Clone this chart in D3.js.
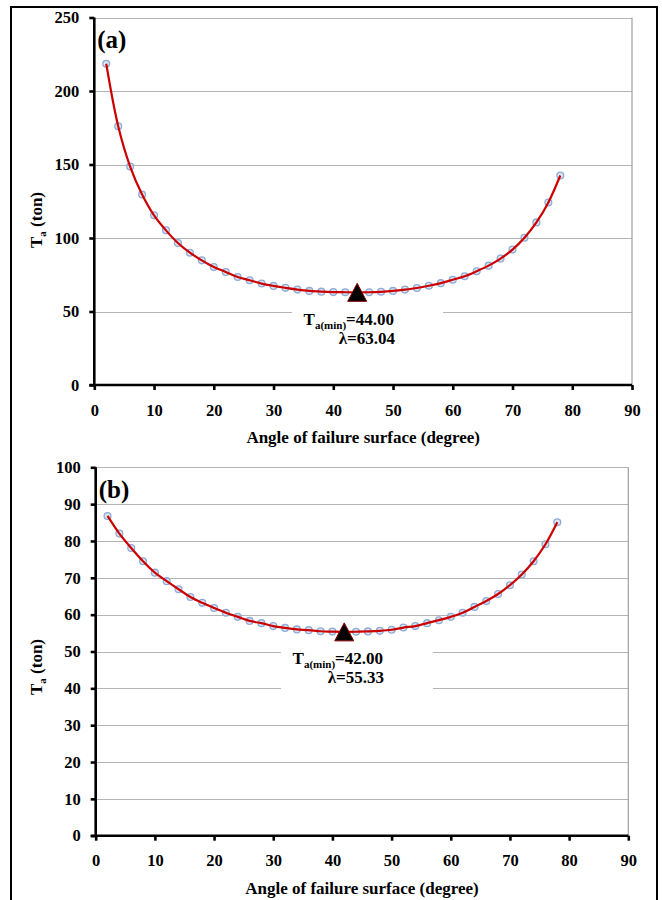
<!DOCTYPE html>
<html>
<head>
<meta charset="utf-8">
<script src="https://cdn.jsdelivr.net/npm/d3@7"></script>
<style>
  html, body { margin: 0; padding: 0; background: #fff; }
  svg text, svg tspan { font-family: "Liberation Serif", "Times New Roman", "DejaVu Serif", serif !important; font-weight: bold; fill: #000; }
</style>
</head>
<body>
<svg id="chart" width="662" height="900" font-family="Liberation Serif, serif"></svg>
<script>
// ---- data ----
const angles = [2, 4, 6, 8, 10, 12, 14, 16, 18, 20, 22, 24, 26, 28, 30, 32, 34, 36, 38, 40,
                42, 44, 46, 48, 50, 52, 54, 56, 58, 60, 62, 64, 66, 68, 70, 72, 74, 76, 78];
const taA = [218.5, 176.0, 148.6, 129.6, 115.4, 105.2, 96.6, 90.0, 84.8, 80.3, 76.9, 73.5, 71.3, 69.0,
             67.4, 66.1, 64.9, 64.0, 63.5, 63.2, 63.1, 63.04, 63.1, 63.4, 64.0, 64.9, 66.0, 67.5, 69.3,
             71.6, 74.0, 77.4, 81.2, 86.0, 92.1, 100.2, 110.6, 124.2, 142.5];
const taB = [86.8, 82.0, 78.1, 74.5, 71.4, 69.1, 66.9, 64.8, 63.2, 61.8, 60.5, 59.4, 58.3, 57.7,
             56.9, 56.4, 56.0, 55.8, 55.5, 55.4, 55.33, 55.36, 55.45, 55.6, 55.9, 56.5, 56.9, 57.7, 58.5,
             59.4, 60.5, 62.1, 63.7, 65.6, 68.0, 70.9, 74.5, 79.1, 85.1];
const xTicks = [0, 10, 20, 30, 40, 50, 60, 70, 80, 90];
const yTicksA = [0, 50, 100, 150, 200, 250];
const yTicksB = [0, 10, 20, 30, 40, 50, 60, 70, 80, 90, 100];
const minA = { angle: 44, value: 63.04, line1: "=44.00", line2: "λ=63.04" };
const minB = { angle: 42, value: 55.33, line1: "=42.00", line2: "λ=55.33" };
const panelLabels = ["(a)", "(b)"];
const xTitle = "Angle of failure surface (degree)";

const FONT = '"Liberation Serif", "Times New Roman", "DejaVu Serif", serif';
const svg = d3.select("#chart");

// outer frame
svg.append("rect").attr("x", 11).attr("y", 7).attr("width", 646).attr("height", 920)
  .attr("fill", "none").attr("stroke", "#000").attr("stroke-width", 2);

function triangleType(w, h) {
  return { draw(ctx) { ctx.moveTo(0, -h / 2); ctx.lineTo(w / 2, h / 2); ctx.lineTo(-w / 2, h / 2); ctx.closePath(); } };
}

function txt(sel, size) {
  return sel.attr("font-family", FONT).style("font-family", FONT).attr("font-weight", "bold").style("font-size", size);
}

function panel(cfg) {
  const g = svg.append("g");
  const x = d3.scaleLinear().domain([0, 90]).range([cfg.x0, cfg.x1]);
  const y = d3.scaleLinear().domain([0, cfg.ymax]).range([cfg.y0, cfg.y1]);

  // gridlines
  g.append("g").selectAll("line").data(cfg.yTicks.filter(d => d > 0)).join("line")
    .attr("x1", x(0)).attr("x2", x(90)).attr("y1", d => Math.round(y(d)) + 0.5).attr("y2", d => Math.round(y(d)) + 0.5)
    .attr("stroke", "#b4b4b4").attr("stroke-width", 1.2);
  // right border of plot area
  g.append("line").attr("x1", x(90)).attr("x2", x(90)).attr("y1", y(cfg.ymax)).attr("y2", y(0))
    .attr("stroke", "#a0a0a0").attr("stroke-width", 1.2);

  // annotation box (masks gridlines)
  g.append("rect").attr("x", cfg.box[0]).attr("y", cfg.box[1]).attr("width", cfg.box[2]).attr("height", cfg.box[3])
    .attr("fill", "#fff");

  // axes
  const xAxis = d3.axisBottom(x).tickValues(xTicks).tickSize(5).tickPadding(14).tickFormat(d3.format("d"));
  const yAxis = d3.axisLeft(y).tickValues(cfg.yTicks).tickSize(5).tickPadding(10).tickFormat(d3.format("d"));
  const gx = g.append("g").attr("transform", `translate(0,${y(0)})`).call(xAxis);
  const gy = g.append("g").attr("transform", `translate(${x(0)},0)`).call(yAxis);
  [gx, gy].forEach(a => {
    a.attr("font-family", FONT);
    a.select(".domain").attr("stroke", "#000").attr("stroke-width", 2.6);
    a.selectAll(".tick line").attr("stroke", "#000").attr("stroke-width", 2.6);
    txt(a.selectAll(".tick text"), "16.5px").attr("fill", "#000");
  });
  gx.select(".domain").attr("d", `M${x(0) - 5},0H${x(90)}`);
  gy.select(".domain").attr("d", `M0,${y(cfg.ymax)}V${y(0)}`);

  // data points
  const pts = angles.map((a, i) => [a, cfg.values[i]]);
  g.append("g").selectAll("circle").data(pts).join("circle")
    .attr("cx", d => x(d[0])).attr("cy", d => y(d[1])).attr("r", 3.4)
    .attr("fill", "rgba(190,208,232,0.55)").attr("stroke", "#8eaad6").attr("stroke-width", 1.3);

  // smooth line
  const line = d3.line().x(d => x(d[0])).y(d => y(d[1])).curve(d3.curveCatmullRom.alpha(0.5));
  g.append("path").datum(pts).attr("d", line).attr("fill", "none")
    .attr("stroke", "#cc0000").attr("stroke-width", 2.2);

  // minimum marker
  g.append("path").attr("d", d3.symbol().type(triangleType(19, 18))())
    .attr("transform", `translate(${x(cfg.min.angle)},${y(cfg.min.value)})`)
    .attr("fill", "#000").attr("stroke", "#8b0000").attr("stroke-width", 1);

  // annotation text
  const t1 = txt(g.append("text"), "17px").attr("x", cfg.textX).attr("y", cfg.textY).attr("text-anchor", "end");
  t1.append("tspan").text("T");
  t1.append("tspan").attr("dy", 4).style("font-size", "11px").text("a(min)");
  t1.append("tspan").attr("dy", -4).text(cfg.min.line1);
  txt(g.append("text"), "17px").attr("x", cfg.textX + 1).attr("y", cfg.textY + 19).attr("text-anchor", "end")
    .text(cfg.min.line2);

  // panel label
  txt(g.append("text"), "25px").attr("x", x(0) + 3).attr("y", cfg.labelY).text(cfg.label);

  // x title
  txt(g.append("text"), "17px").attr("x", (x(0) + x(90)) / 2).attr("y", y(0) + 58).attr("text-anchor", "middle")
    .text(xTitle);

  // y title
  const yt = txt(g.append("text"), "17px").attr("transform", `translate(42,${cfg.yTitleY}) rotate(-90)`)
    .attr("text-anchor", "middle");
  yt.append("tspan").text("T");
  yt.append("tspan").attr("dy", 4).style("font-size", "11px").text("a");
  yt.append("tspan").attr("dy", -4).text(" (ton)");
}

panel({ x0: 94.3, x1: 632, y0: 385, y1: 17.5, ymax: 250, yTicks: yTicksA, values: taA, min: minA,
        box: [292, 304, 151, 48], textX: 394, textY: 325, label: panelLabels[0], labelY: 48, yTitleY: 220 });
panel({ x0: 95.7, x1: 628.3, y0: 835.7, y1: 467.3, ymax: 100, yTicks: yTicksB, values: taB, min: minB,
        box: [281, 644, 152, 56], textX: 383, textY: 664, label: panelLabels[1], labelY: 498, yTitleY: 667 });
</script>
</body>
</html>
